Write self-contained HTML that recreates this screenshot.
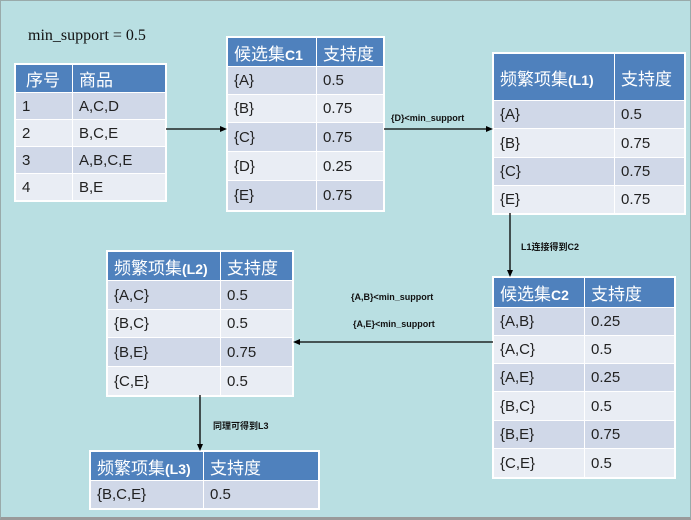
<!DOCTYPE html>
<html><head><meta charset="utf-8"><style>
html,body{margin:0;padding:0}
body{width:691px;height:520px;background:#b9dfe2;position:relative;overflow:hidden;font-family:"Liberation Sans","Noto Sans CJK SC",sans-serif}
.frame{position:absolute;left:0;top:0;width:689px;height:516px;border:1px solid #9aa;border-bottom:3px solid #9a9a9a}
table{position:absolute;border-collapse:collapse;table-layout:fixed;background:#fff;outline:1px solid #fff}
td{border:1.5px solid #fff;padding:0 0 0 6px;font-size:15px;color:#222;white-space:nowrap;overflow:hidden}
tr.h td{background:#4f81bd;color:#fff;font-size:17px}
tr.a td{background:#d0d8e8}
tr.b td{background:#e9edf4}
.lbl{position:absolute;font-size:9px;font-weight:bold;color:#111;white-space:nowrap}
svg{position:absolute;left:0;top:0}
</style></head><body>
<div class="frame"></div>
<div style="position:absolute;left:28px;top:27px;font-family:'Liberation Serif',serif;font-size:16px;color:#111">min_support = 0.5</div>

<table style="left:15px;top:64px;width:151px">
<colgroup><col style="width:57px"><col></colgroup>
<tr class="h" style="height:28px"><td style="padding-left:10px">序号</td><td>商品</td></tr>
<tr class="a" style="height:27px"><td>1</td><td>A,C,D</td></tr>
<tr class="b" style="height:27px"><td>2</td><td>B,C,E</td></tr>
<tr class="a" style="height:27px"><td>3</td><td>A,B,C,E</td></tr>
<tr class="b" style="height:27px"><td>4</td><td>B,E</td></tr>
</table>

<table style="left:227px;top:37px;width:157px">
<colgroup><col style="width:89px"><col></colgroup>
<tr class="h" style="height:29px"><td>候选集<b style="font-size:14px">C1</b></td><td>支持度</td></tr>
<tr class="a" style="height:28px"><td>{A}</td><td>0.5</td></tr>
<tr class="b" style="height:28px"><td>{B}</td><td>0.75</td></tr>
<tr class="a" style="height:29px"><td>{C}</td><td>0.75</td></tr>
<tr class="b" style="height:29px"><td>{D}</td><td>0.25</td></tr>
<tr class="a" style="height:30px"><td>{E}</td><td>0.75</td></tr>
</table>

<table style="left:493px;top:53px;width:192px">
<colgroup><col style="width:121px"><col></colgroup>
<tr class="h" style="height:47px"><td>频繁项集<b style="font-size:14px">(L1)</b></td><td>支持度</td></tr>
<tr class="a" style="height:28px"><td>{A}</td><td>0.5</td></tr>
<tr class="b" style="height:29px"><td>{B}</td><td>0.75</td></tr>
<tr class="a" style="height:28px"><td>{C}</td><td>0.75</td></tr>
<tr class="b" style="height:28px"><td>{E}</td><td>0.75</td></tr>
</table>

<table style="left:493px;top:277px;width:182px">
<colgroup><col style="width:91px"><col></colgroup>
<tr class="h" style="height:30px"><td>候选集<b style="font-size:14px">C2</b></td><td>支持度</td></tr>
<tr class="a" style="height:28px"><td>{A,B}</td><td>0.25</td></tr>
<tr class="b" style="height:28px"><td>{A,C}</td><td>0.5</td></tr>
<tr class="a" style="height:28px"><td>{A,E}</td><td>0.25</td></tr>
<tr class="b" style="height:29px"><td>{B,C}</td><td>0.5</td></tr>
<tr class="a" style="height:28px"><td>{B,E}</td><td>0.75</td></tr>
<tr class="b" style="height:29px"><td>{C,E}</td><td>0.5</td></tr>
</table>

<table style="left:107px;top:251px;width:186px">
<colgroup><col style="width:113px"><col></colgroup>
<tr class="h" style="height:29px"><td>频繁项集<b style="font-size:14px">(L2)</b></td><td>支持度</td></tr>
<tr class="a" style="height:29px"><td>{A,C}</td><td>0.5</td></tr>
<tr class="b" style="height:28px"><td>{B,C}</td><td>0.5</td></tr>
<tr class="a" style="height:29px"><td>{B,E}</td><td>0.75</td></tr>
<tr class="b" style="height:29px"><td>{C,E}</td><td>0.5</td></tr>
</table>

<table style="left:90px;top:451px;width:229px">
<colgroup><col style="width:113px"><col></colgroup>
<tr class="h" style="height:29px"><td>频繁项集<b style="font-size:14px">(L3)</b></td><td>支持度</td></tr>
<tr class="a" style="height:28px"><td>{B,C,E}</td><td>0.5</td></tr>
</table>

<svg width="691" height="520" viewBox="0 0 691 520">
<g stroke="#000" stroke-width="1.3" fill="none">
<line x1="166" y1="129" x2="222" y2="129"/>
<line x1="384" y1="129" x2="488" y2="129"/>
<line x1="510" y1="213" x2="510" y2="272"/>
<line x1="493" y1="342" x2="298" y2="342"/>
<line x1="200" y1="395" x2="200" y2="446"/>
</g>
<g fill="#000">
<polygon points="227,129 220,126 220,132"/>
<polygon points="493,129 486,126 486,132"/>
<polygon points="510,277 507,270 513,270"/>
<polygon points="293,342 300,339 300,345"/>
<polygon points="200,451 197,444 203,444"/>
</g>
</svg>
<div class="lbl" style="left:391px;top:113px">{D}&lt;min_support</div>
<div class="lbl" style="left:521px;top:240px">L1连接得到C2</div>
<div class="lbl" style="left:351px;top:292px">{A,B}&lt;min_support</div>
<div class="lbl" style="left:353px;top:319px">{A,E}&lt;min_support</div>
<div class="lbl" style="left:213px;top:419px">同理可得到L3</div>
</body></html>
